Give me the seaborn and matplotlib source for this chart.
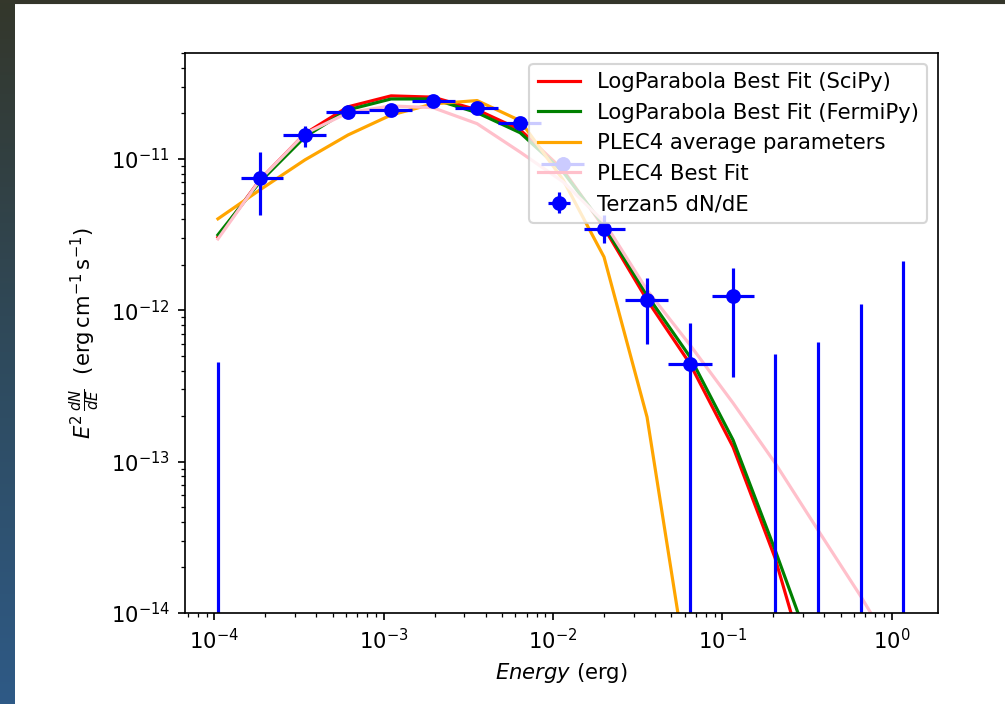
import numpy as np
import matplotlib
matplotlib.use('Agg')
import matplotlib.pyplot as plt
from matplotlib.patches import Rectangle
from matplotlib.colors import LinearSegmentedColormap
import seaborn as sns

# bin centres and edges (erg)
energy = np.array([1.05e-4, 1.86e-4, 3.43e-4, 6.16e-4, 1.105e-3, 1.956e-3, 3.56e-3,
                   6.39e-3, 1.146e-2, 2.0e-2, 3.59e-2, 6.44e-2, 0.1156, 0.2047,
                   0.367, 0.659, 1.167])
bin_lo = np.array([7.9e-5, 1.44e-4, 2.55e-4, 4.57e-4, 8.19e-4, 1.47e-3, 2.64e-3,
                   4.73e-3, 8.49e-3, 1.52e-2, 2.66e-2, 4.78e-2, 8.69e-2, 0.154,
                   0.272, 0.495, 0.877])
bin_hi = np.array([1.44e-4, 2.55e-4, 4.57e-4, 8.19e-4, 1.47e-3, 2.64e-3, 4.73e-3,
                   8.49e-3, 1.52e-2, 2.66e-2, 4.78e-2, 8.69e-2, 0.154, 0.272,
                   0.495, 0.877, 1.55])

# E^2 dN/dE points and error bar ends
flux = np.array([1e-16, 7.49e-12, 1.44e-11, 2.05e-11, 2.11e-11, 2.41e-11, 2.17e-11,
                 1.73e-11, 9.27e-12, 3.45e-12, 1.17e-12, 4.42e-13, 1.24e-12,
                 1e-16, 1e-16, 1e-16, 1e-16])
flux_lo = np.array([1e-16, 4.27e-12, 1.20e-11, 1.95e-11, 2.03e-11, 2.33e-11, 2.07e-11,
                    1.61e-11, 8.3e-12, 2.79e-12, 6.0e-13, 1e-16, 3.63e-13,
                    1e-16, 1e-16, 1e-16, 1e-16])
flux_hi = np.array([4.56e-13, 1.11e-11, 1.65e-11, 2.15e-11, 2.19e-11, 2.49e-11, 2.27e-11,
                    1.85e-11, 1.03e-11, 4.27e-12, 1.64e-12, 8.25e-13, 1.91e-12,
                    5.15e-13, 6.18e-13, 1.10e-12, 2.12e-12])

# model curves evaluated at the bin centres
logpar_scipy = [3.05e-12, 7.28e-12, 1.47e-11, 2.21e-11, 2.61e-11, 2.56e-11, 2.11e-11,
                1.56e-11, 8.47e-12, 3.51e-12, 1.17e-12, 4.43e-13, 1.25e-13, 2.31e-14,
                2.43e-15, 2.0e-16, 1.2e-17]
logpar_fermipy = [3.15e-12, 7.06e-12, 1.40e-11, 2.11e-11, 2.49e-11, 2.49e-11, 2.02e-11,
                  1.49e-11, 8.22e-12, 3.61e-12, 1.26e-12, 4.92e-13, 1.39e-13, 2.61e-14,
                  4.33e-15, 4.5e-16, 3.5e-17]
plec4_avg = [4.02e-12, 6.25e-12, 9.86e-12, 1.44e-11, 1.95e-11, 2.31e-11, 2.43e-11,
             1.79e-11, 7.28e-12, 2.25e-12, 1.97e-13, 3.1e-15]
plec4_fit = [2.96e-12, 7.28e-12, 1.47e-11, 2.02e-11, 2.24e-11, 2.18e-11, 1.71e-11,
             1.11e-11, 7.06e-12, 3.84e-12, 1.36e-12, 5.90e-13, 2.44e-13, 9.8e-14,
             3.53e-14, 1.28e-14, 4.4e-15]

fig = plt.figure(figsize=(1005 / 152, 704 / 152), dpi=152)

# dark screenshot frame
fig.patches.append(Rectangle((0, 1 - 3 / 704), 1, 3 / 704, transform=fig.transFigure,
                             color='#34352a', zorder=0))
cmap = LinearSegmentedColormap.from_list('frame', ['#34372b', '#2f4a5c', '#2e5a86'])
grad = np.tile(np.linspace(0, 1, 704).reshape(-1, 1), (1, 15))
fig.figimage(grad, xo=0, yo=0, cmap=cmap, origin='upper', zorder=1)

ax = fig.add_axes([185 / 1005, 91 / 704, 753 / 1005, 560 / 704])
ax.set_xscale('log')
ax.set_yscale('log')

sns.lineplot(x=energy, y=logpar_scipy, color='red', label='LogParabola Best Fit (SciPy)', ax=ax)
sns.lineplot(x=energy, y=logpar_fermipy, color='green', label='LogParabola Best Fit (FermiPy)', ax=ax)
sns.lineplot(x=energy[:len(plec4_avg)], y=plec4_avg, color='orange', label='PLEC4 average parameters', ax=ax)
sns.lineplot(x=energy, y=plec4_fit, color='pink', label='PLEC4 Best Fit', ax=ax)

ax.errorbar(energy, flux, xerr=[energy - bin_lo, bin_hi - energy],
            yerr=[flux - flux_lo, flux_hi - flux], fmt='o', color='blue',
            label='Terzan5 dN/dE')

ax.set_xlim(6.71e-5, 1.876)
ax.set_ylim(1e-14, 5.01e-11)
ax.set_xlabel('$Energy$ (erg)')
ax.set_ylabel(r'$E^2\,\frac{dN}{dE}$  $\mathrm{(erg\,cm^{-1}\,s^{-1})}$')
ax.legend(loc='upper right')

fig.savefig('out.png', dpi=152)
